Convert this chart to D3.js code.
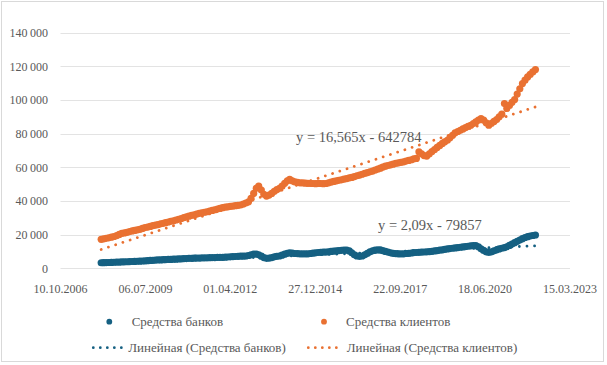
<!DOCTYPE html>
<html>
<head>
<meta charset="utf-8">
<script src="https://cdn.jsdelivr.net/npm/d3@7"></script>
<style>
  body { margin: 0; background: #fff; }
  text { fill: #595959; }
</style>
</head>
<body>
<div id="chart"></div>
<script>
// Data (monthly)
// ==================================================================
const firstMonth = "01.02.2008";

const bankFunds = [
    3300, 3350, 3400, 3450, 3500, 3600, 3650, 3700, 3800, 3850, 3900, 4000,
    4050, 4100, 4200, 4250, 4350, 4450, 4550, 4650, 4750, 4900, 4950, 5000,
    5100, 5150, 5250, 5300, 5400, 5450, 5550, 5600, 5700, 5800, 5900, 5950,
    6000, 6050, 6100, 6150, 6200, 6250, 6300, 6350, 6400, 6450, 6500, 6500,
    6600, 6700, 6800, 6900, 7000, 7100, 7200, 7250, 7300, 7600, 8000, 8400,
    8500, 8000, 7200, 6400, 5900, 6100, 6400, 6800, 7100, 7300, 7800, 8400,
    8900, 9200, 9000, 8800, 8700, 8600, 8600, 8600, 8600, 8800, 9000, 9200,
    9400, 9500, 9600, 9600, 9800, 10000, 10200, 10400, 10500, 10700, 10800, 10800,
    10300, 9200, 8000, 7300, 7100, 7300, 8000, 8900, 9800, 10400, 10800, 10900,
    10900, 10500, 10000, 9600, 9200, 8900, 8700, 8600, 8600, 8600, 8800, 8900,
    9100, 9300, 9400, 9500, 9600, 9700, 9800, 9900, 10100, 10300, 10500, 10800,
    11000, 11300, 11500, 11700, 11900, 12100, 12300, 12500, 12700, 12900, 13100, 13300,
    13500, 13500, 12800, 11600, 10600, 9800, 9400, 9800, 10400, 11000, 11500, 11900,
    12300, 12800, 13600, 14400, 15200, 16000, 16800, 17600, 18300, 18800, 19200, 19500,
    19800
];

const clientFunds = [
    17200, 17500, 17800, 18100, 18500, 18900, 19400, 20100, 20800, 21000, 21400, 21800,
    22200, 22500, 22800, 23100, 23700, 24200, 24500, 24900, 25300, 25700, 26000, 26400,
    26700, 27100, 27500, 27900, 28200, 28700, 29100, 29600, 30100, 30600, 31000, 31400,
    31800, 32200, 32600, 33000, 33300, 33600, 34000, 34400, 34800, 35200, 35600, 36000,
    36300, 36500, 36800, 37000, 37200, 37400, 37600, 38200, 38800, 39500, 41500, 44500,
    47500, 48800, 46500, 44000, 42900, 43500, 44500, 45800, 46800, 47500, 48800, 50500,
    52000, 52800, 52000, 51300, 51000, 50800, 50800, 50600, 50500, 50500, 50400, 50300,
    50500, 50400, 50300, 50400, 50800, 51200, 51600, 52000, 52300, 52600, 53000, 53300,
    53700, 54000, 54500, 55000, 55400, 55900, 56400, 56900, 57300, 57800, 58400, 58900,
    59500, 60100, 60700, 61100, 61500, 61900, 62300, 62700, 63000, 63300, 63700, 64100,
    64500, 65000, 65300, 69200, 68000, 67000, 66700, 68000, 69400, 70600, 71800, 73000,
    74200, 75200, 76100, 77600, 79000, 80500, 81300, 82000, 82800, 83600, 84300, 85000,
    86000, 87000, 88000, 89000, 88000, 86500, 85000, 86200, 87300, 88400, 90000, 91600,
    97900, 95000, 96800, 98600, 100300, 103500, 106700, 109800, 111800, 113700, 115200, 116700,
    118100
];

// Linear trendlines as printed on the chart: [slope, intercept] in Excel date serials
const bankTrend = [2.09, -79857];
const clientTrend = [16.565, -642784];
const bankTrendLabel = "y = 2,09x - 79857";
const clientTrendLabel = "y = 16,565x - 642784";

const xTickLabels = ["10.10.2006", "06.07.2009", "01.04.2012", "27.12.2014",
    "22.09.2017", "18.06.2020", "15.03.2023"];
const yTicks = [0, 20000, 40000, 60000, 80000, 100000, 120000, 140000];

const seriesNames = ["Средства банков", "Средства клиентов"];
const trendNames = ["Линейная (Средства банков)", "Линейная (Средства клиентов)"];

// Layout
// ==================================================================
const W = 607, H = 365,
    plot = {left: 60.5, right: 570, top: 32.7, bottom: 268.3},
    colors = ["#156082", "#E97132"],
    markerR = 3.6;

const parseDate = d3.utcParse("%d.%m.%Y");
const excelEpoch = Date.UTC(1899, 11, 30);
const toSerial = d => (d - excelEpoch) / 86400000;

const start = parseDate(firstMonth);
const toPoints = vals => vals.map((v, i) => ({date: d3.utcMonth.offset(start, i), value: v}));
const banks = toPoints(bankFunds);
const clients = toPoints(clientFunds);
const tickDates = xTickLabels.map(parseDate);

// Scales
// ==================================================================
const xScale = d3.scaleUtc()
    .domain([tickDates[0], tickDates[tickDates.length - 1]])
    .range([plot.left, plot.right]);

const yScale = d3.scaleLinear()
    .domain([0, 140000])
    .range([plot.bottom, plot.top]);

// Svg
// ==================================================================
const svg = d3.select("#chart").append("svg")
    .attr("width", W)
    .attr("height", H)
    .attr("font-family", "'Liberation Serif', 'Times New Roman', serif");

svg.append("rect")
    .attr("x", 1.5).attr("y", 1.5)
    .attr("width", W - 5).attr("height", H - 5)
    .attr("fill", "#fff")
    .attr("stroke", "#d9d9d9");

// gridlines + y labels
svg.append("g")
    .selectAll("line")
    .data(yTicks)
    .join("line")
        .attr("x1", plot.left)
        .attr("x2", plot.right)
        .attr("y1", d => Math.round(yScale(d)) + 0.5)
        .attr("y2", d => Math.round(yScale(d)) + 0.5)
        .attr("stroke", "#e3e3e3")
        .attr("stroke-width", 1);

svg.append("g")
    .selectAll("text")
    .data(yTicks)
    .join("text")
        .attr("x", 48)
        .attr("y", d => yScale(d))
        .attr("dy", "0.35em")
        .attr("text-anchor", "end")
        .attr("font-size", "12px")
        .text(d => d3.format(",")(d).replace(/,/g, "\u2009"));

// x labels
svg.append("g")
    .selectAll("text")
    .data(tickDates)
    .join("text")
        .attr("x", d => xScale(d))
        .attr("y", 293)
        .attr("text-anchor", "middle")
        .attr("font-size", "12px")
        .text((d, i) => xTickLabels[i]);

// trendlines (under the markers)
const trendLine = (data, coef) => {
    const ends = [data[0].date, data[data.length - 1].date];
    return ends.map(d => [xScale(d), yScale(coef[0] * toSerial(d) + coef[1])]);
};

[[banks, bankTrend], [clients, clientTrend]].forEach(([data, coef], k) => {
    svg.append("path")
        .attr("d", d3.line()(trendLine(data, coef)))
        .attr("fill", "none")
        .attr("stroke", colors[k])
        .attr("stroke-width", 2.8)
        .attr("stroke-linecap", "round")
        .attr("stroke-dasharray", "0.01 7.6");
});

// markers
[banks, clients].forEach((data, k) => {
    svg.append("g")
        .selectAll("circle")
        .data(data)
        .join("circle")
            .attr("cx", d => xScale(d.date))
            .attr("cy", d => yScale(d.value))
            .attr("r", markerR)
            .attr("fill", colors[k]);
});

// trend equations
svg.append("text")
    .attr("x", 296).attr("y", 142)
    .attr("font-size", "14.5px")
    .text(clientTrendLabel);

svg.append("text")
    .attr("x", 378).attr("y", 230)
    .attr("font-size", "14.5px")
    .text(bankTrendLabel);

// legend
const legendDots = [109.3, 324], legendText1 = [131.7, 346];
const legendLines = [[93.3, 121.7], [308.3, 341.7]], legendText2 = [128.3, 346.7];

seriesNames.forEach((name, k) => {
    svg.append("circle")
        .attr("cx", legendDots[k]).attr("cy", 321.7)
        .attr("r", 2.9)
        .attr("fill", colors[k]);
    svg.append("text")
        .attr("x", legendText1[k]).attr("y", 326)
        .attr("font-size", "13px")
        .text(name);
});

trendNames.forEach((name, k) => {
    svg.append("line")
        .attr("x1", legendLines[k][0]).attr("x2", legendLines[k][1])
        .attr("y1", 347.7).attr("y2", 347.7)
        .attr("stroke", colors[k])
        .attr("stroke-width", 2.8)
        .attr("stroke-linecap", "round")
        .attr("stroke-dasharray", "0.01 7");
    svg.append("text")
        .attr("x", legendText2[k]).attr("y", 352)
        .attr("font-size", "13px")
        .text(name);
});
</script>
</body>
</html>
